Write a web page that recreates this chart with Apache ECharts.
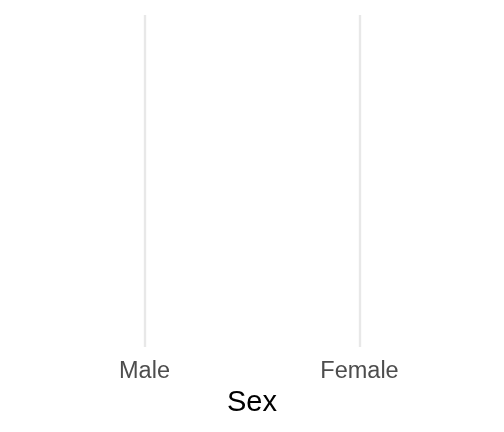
<!DOCTYPE html>
<html>
<head>
<meta charset="utf-8">
<script src="https://cdn.jsdelivr.net/npm/echarts@6/dist/echarts.min.js"></script>
<style>html,body{margin:0;padding:0;background:#fff;}#c{width:504px;height:432px;}</style>
</head>
<body>
<div id="c"></div>
<script>
var categories = ['Male', 'Female'];
var seriesValues = [];
var xTitle = 'Sex';

var chart = echarts.init(document.getElementById('c'), null, {renderer: 'canvas'});
chart.setOption({
  animation: false,
  backgroundColor: '#ffffff',
  grid: {left: 144.5, right: 144.5, top: 15, bottom: 85, containLabel: false},
  xAxis: {
    type: 'category',
    data: categories,
    boundaryGap: false,
    name: xTitle,
    nameLocation: 'middle',
    nameGap: 40,
    nameTextStyle: {fontFamily: 'Liberation Sans', fontSize: 29, color: '#000000'},
    axisLine: {show: false},
    axisTick: {show: false},
    axisLabel: {fontFamily: 'Liberation Sans', fontSize: 23.5, color: '#4d4d4d', margin: 13},
    splitLine: {show: true, lineStyle: {color: '#e8e8e8', width: 2.4}}
  },
  yAxis: {
    type: 'value', min: 0, max: 1, show: false,
    splitLine: {show: false}
  },
  series: [{type: 'scatter', data: seriesValues}]
});
</script>
</body>
</html>
